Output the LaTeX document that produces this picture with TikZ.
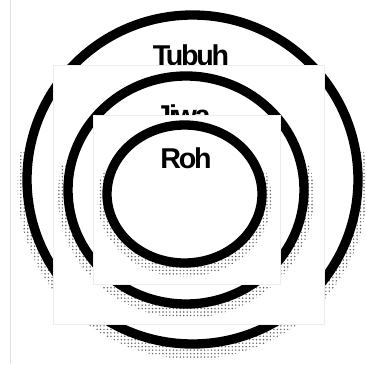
\documentclass[tikz,border=0pt]{standalone}
\usepackage{fontspec}
\setmainfont{Liberation Sans}
\newfontfamily\lblfont[LetterSpace=-8]{Liberation Sans Bold}
\usetikzlibrary{patterns.meta}

\tikzdeclarepattern{
  name=halftone,
  type=uncolored,
  bounding box={(-1.3pt,-1.3pt) and (1.3pt,1.3pt)},
  tile size={(2.6pt,2.6pt)},
  code={\fill (0pt,0pt) circle [radius=0.62pt];}
}

\begin{document}
\begin{tikzpicture}[x=0.75pt,y=-0.75pt,
  ring/.style={line width=7pt},
  shade/.style={pattern=halftone,pattern color=black!60,even odd rule},
  cover/.style={fill=white,draw=black!7,line width=0.5pt},
  lbl/.style={font=\lblfont\fontsize{21.5}{24}\selectfont,inner sep=0pt,anchor=base}]
\useasboundingbox (0,0) rectangle (366,364);
\draw[black!12,line width=0.6pt] (10,0) -- (10,364);
% outer
\begin{scope}
\clip (0,150) rectangle (366,364);
\fill[shade] (192.5,185) ellipse [x radius=175,y radius=174] (192.5,179.5) ellipse [x radius=165.5,y radius=164.5];
\end{scope}
\draw[ring] (192.5,179.5) ellipse [x radius=165.5,y radius=164.5];
\node[lbl] (tubuh) at (191,65) {Tubuh};
\draw[cover] (53,65) rectangle (324,324);
% middle
\begin{scope}
\clip (0,165) rectangle (366,364);
\fill[shade] (186,195) ellipse [x radius=128,y radius=123] (186,190) ellipse [x radius=118,y radius=114];
\end{scope}
\draw[ring] (186,190) ellipse [x radius=118,y radius=114];
\node[lbl] (jiwa) at (183,125) {Jiwa};
\draw[cover] (93,115) rectangle (280,284);
% inner
\begin{scope}
\clip (0,172) rectangle (366,364);
\fill[shade] (184.5,199) ellipse [x radius=87,y radius=78] (184.5,194) ellipse [x radius=77.5,y radius=69];
\end{scope}
\draw[ring] (184.5,194) ellipse [x radius=77.5,y radius=69];
\node[lbl] (roh) at (186,168) {Roh};
\end{tikzpicture}
\end{document}
